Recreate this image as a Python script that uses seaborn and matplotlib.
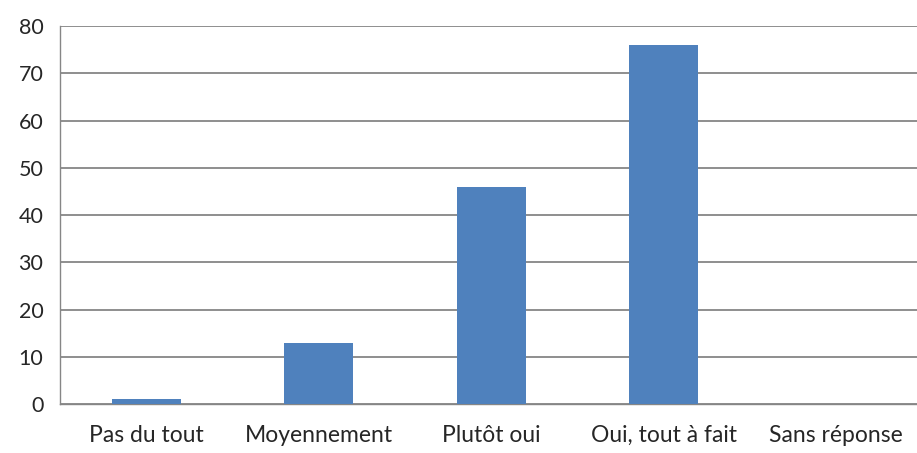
import matplotlib
matplotlib.use("Agg")
import matplotlib.pyplot as plt
import seaborn as sns
import pandas as pd

categories = ["Pas du tout", "Moyennement", "Plutôt oui", "Oui, tout à fait", "Sans réponse"]
values = [1, 13, 46, 76, 0]
y_ticks = [0, 10, 20, 30, 40, 50, 60, 70, 80]

df = pd.DataFrame({"cat": categories, "n": values})

sns.set_style("white")
plt.rcParams["font.family"] = ["Lato", "DejaVu Sans"]

fig = plt.figure(figsize=(9.17, 4.53), dpi=100)
ax = fig.add_axes([0.0654, 0.108, 0.9405, 0.8344])

grid_col = "#868686"
sns.barplot(data=df, x="cat", y="n", color="#4F81BD", width=0.4, saturation=1,
            linewidth=0, ax=ax, zorder=3)

ax.set_ylim(0, 80)
ax.set_xlim(-0.5, len(categories) - 0.5)
ax.set_yticks(y_ticks)
ax.set_yticklabels([str(t) for t in y_ticks], fontsize=15.5)
ax.yaxis.grid(True, color=grid_col, linewidth=1.3, zorder=0)
ax.set_axisbelow(True)

# category labels on minor ticks, boundary marks on major ticks
ax.set_xticks([i - 0.5 for i in range(len(categories))])
ax.set_xticklabels([""] * len(categories))
ax.set_xticks(range(len(categories)), minor=True)
ax.set_xticklabels(categories, minor=True, fontsize=16.5)
ax.tick_params(axis="x", which="major", length=7, width=1, color=grid_col, direction="out")
ax.tick_params(axis="x", which="minor", length=0, pad=15)
ax.tick_params(axis="y", length=6, width=1, color=grid_col, direction="out", pad=6)

ax.set_xlabel("")
ax.set_ylabel("")
for s in ["top", "right"]:
    ax.spines[s].set_visible(False)
for s in ["left", "bottom"]:
    ax.spines[s].set_color(grid_col)
    ax.spines[s].set_linewidth(1)

fig.savefig("out.png", dpi=100)
